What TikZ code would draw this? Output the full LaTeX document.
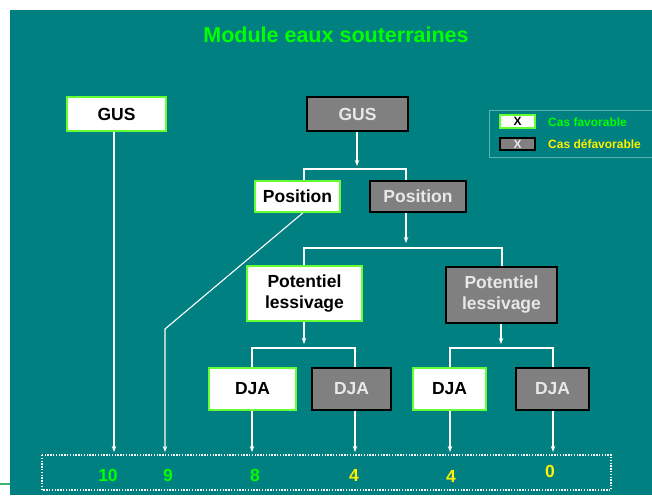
\documentclass[tikz,border=0pt]{standalone}
\usepackage{fontspec}
\setmainfont{Liberation Sans}
\usetikzlibrary{arrows.meta}
\definecolor{teal}{HTML}{008080}
\definecolor{brightgreen}{HTML}{00FF00}
\definecolor{boxgreen}{HTML}{66FF33}
\definecolor{graybox}{HTML}{808080}
\definecolor{graytext}{HTML}{E8E8E8}
\definecolor{legline}{HTML}{5FAFAF}
\definecolor{sidegreen}{HTML}{3CB371}
\tikzset{
  favbox/.style={draw=boxgreen, fill=white, line width=1.5pt, text=black, font=\fontsize{17.5}{21}\selectfont\bfseries, inner sep=0pt, align=center},
  defbox/.style={draw=black, fill=graybox, line width=1.5pt, text=graytext, font=\fontsize{17.5}{21}\selectfont\bfseries, inner sep=0pt, align=center},
  conn/.style={white, line width=1.1pt},
  arr/.style={white, line width=1.1pt, -{Stealth[length=6pt,width=4.5pt]}},
  score/.style={font=\fontsize{17.5}{20}\selectfont\bfseries, inner sep=0pt},
  legtext/.style={font=\fontsize{12}{14}\selectfont\bfseries, inner sep=0pt, anchor=west},
}
\begin{document}
\begin{tikzpicture}[x=1pt,y=-1pt]
\useasboundingbox (0,0) rectangle (652,495);
\fill[white] (0,0) rectangle (652,495);
\fill[teal] (10,10) rectangle (652,495);
\draw[sidegreen, line width=2pt] (0,484) -- (10,484);

% title
\node[text=brightgreen, font=\fontsize{21.5}{24}\selectfont\bfseries, inner sep=0pt] (title) at (336,35) {Module eaux souterraines};

% legend
\draw[legline, line width=0.8pt] (660,110) -- (489,110) -- (489,157) -- (660,157);
\node[draw=boxgreen, fill=white, line width=1.2pt, minimum width=35pt, minimum height=13pt, inner sep=0pt, font=\fontsize{12}{12}\selectfont\bfseries] (legfav) at (517.5,121.5) {X};
\node[draw=black, fill=graybox, line width=1.2pt, minimum width=35pt, minimum height=12pt, inner sep=0pt, text=graytext, font=\fontsize{12}{12}\selectfont\bfseries] (legdef) at (517.5,144) {X};
\node[legtext, text=brightgreen] (legfavt) at (548,122) {Cas favorable};
\node[legtext, text=yellow] (legdeft) at (548,144) {Cas défavorable};

% boxes
\node[favbox, minimum width=99pt, minimum height=34pt] (gusL) at (116.5,114) {GUS};
\node[defbox, minimum width=101pt, minimum height=34pt] (gusR) at (357.5,114) {GUS};
\node[favbox, minimum width=85pt, minimum height=31pt] (posL) at (297.5,196.5) {Position};
\node[defbox, minimum width=96pt, minimum height=31pt] (posR) at (418,196.5) {Position};
\node[favbox, minimum width=115pt, minimum height=55pt] (potL) at (304.5,293.5) {Potentiel\\lessivage};
\node[defbox, minimum width=111pt, minimum height=56pt] (potR) at (501.5,295) {Potentiel\\lessivage};
\node[favbox, minimum width=87pt, minimum height=42pt] (dja1) at (252.5,389) {DJA};
\node[defbox, minimum width=79pt, minimum height=42pt] (dja2) at (351.5,389) {DJA};
\node[favbox, minimum width=73pt, minimum height=42pt] (dja3) at (449.5,389) {DJA};
\node[defbox, minimum width=73pt, minimum height=42pt] (dja4) at (552.5,389) {DJA};

% results box
\draw[white, line width=1.2pt, dash pattern=on 1.4pt off 1.4pt] (42,455) rectangle (611,490);
\node[score, text=brightgreen] (s1) at (108,475) {10};
\node[score, text=brightgreen] (s2) at (168,475) {9};
\node[score, text=brightgreen] (s3) at (255,475) {8};
\node[score, text=yellow] (s4) at (354,475) {4};
\node[score, text=yellow] (s5) at (451,476) {4};
\node[score, text=yellow] (s6) at (550,471) {0};

% branch points
\coordinate (j1) at (357,166);
\coordinate (h1a) at (304,169);
\coordinate (h1b) at (406,169);
\coordinate (j2) at (406,243);
\coordinate (h2a) at (304,248);
\coordinate (h2b) at (502,248);
\coordinate (j3) at (304,344);
\coordinate (h3a) at (252,348);
\coordinate (h3b) at (355,348);
\coordinate (j4) at (501,344);
\coordinate (h4a) at (450,348);
\coordinate (h4b) at (553,348);
\coordinate (bend) at (165,329);
\coordinate (bot) at (0,452);

% connectors
\draw[arr] (gusR.south -| j1) -- (j1);
\draw[conn] (h1a |- posL.north) -- (h1a) -- (h1b) -- (h1b |- posR.north);
\draw[arr] (posR.south -| j2) -- (j2);
\draw[conn] (h2a |- potL.north) -- (h2a) -- (h2b) -- (h2b |- potR.north);
\draw[arr] (potL.south -| j3) -- (j3);
\draw[conn] (h3a |- dja1.north) -- (h3a) -- (h3b) -- (h3b |- dja2.north);
\draw[arr] (potR.south -| j4) -- (j4);
\draw[conn] (h4a |- dja3.north) -- (h4a) -- (h4b) -- (h4b |- dja4.north);

\draw[arr] (gusL.south -| 114,0) -- (bot -| 114,0);
\draw[arr] (posL.south -| 303,0) -- (bend) -- (bend |- bot);
\draw[arr] (dja1.south -| h3a) -- (bot -| h3a);
\draw[arr] (dja2.south -| h3b) -- (bot -| h3b);
\draw[arr] (dja3.south -| h4a) -- (bot -| h4a);
\draw[arr] (dja4.south -| h4b) -- (bot -| h4b);
\end{tikzpicture}
\end{document}
